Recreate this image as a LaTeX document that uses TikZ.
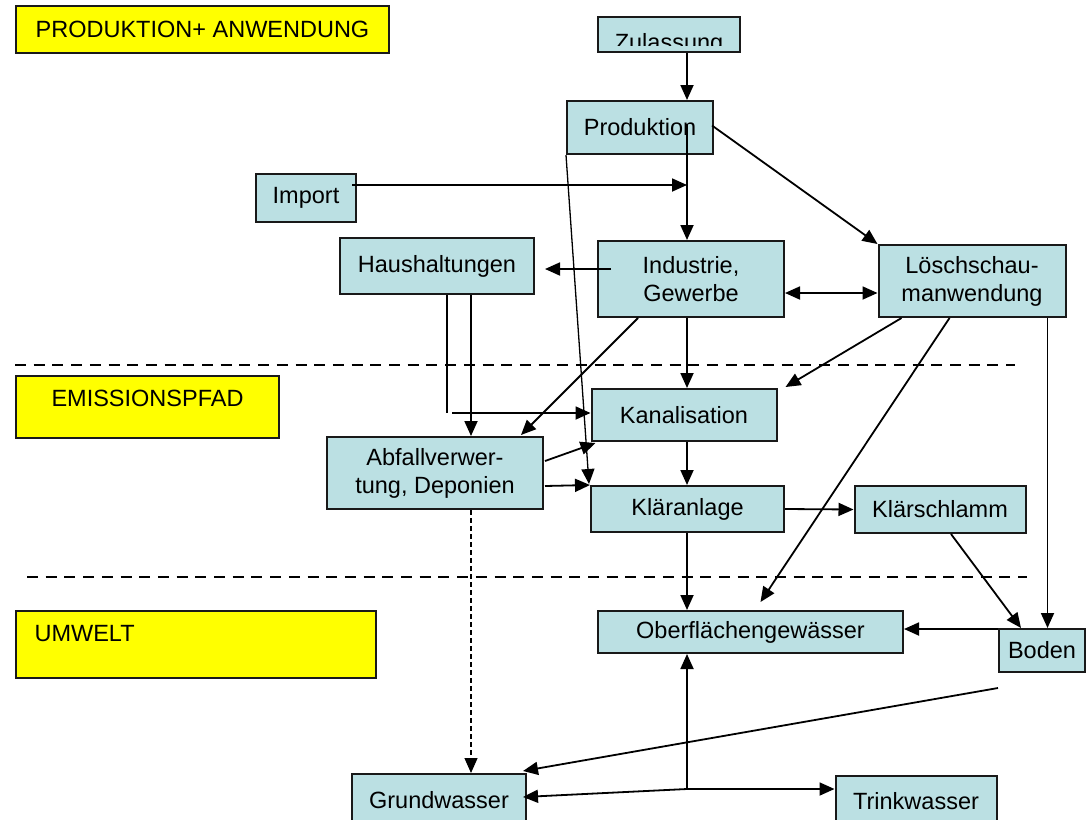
\documentclass[tikz,border=0pt]{standalone}
\usepackage{fontspec}
\setmainfont{Liberation Sans}
\usetikzlibrary{calc,arrows.meta}
\definecolor{hellblau}{RGB}{187,224,227}
\definecolor{gelb}{RGB}{255,255,0}
\newcommand{\grosz}{\fontsize{23.5}{28}\selectfont}
\tikzset{
	kasten/.style={draw=black!90, fill=hellblau, line width=2pt, inner sep=0pt, align=center, font=\grosz},
	ebene/.style={draw=black!90, fill=gelb, line width=2pt, inner sep=0pt, font=\grosz},
	linie/.style={line width=1.8pt},
	pfeil/.style={line width=1.8pt, -{Triangle[length=15pt,width=13pt]}},
	doppelpfeil/.style={line width=1.8pt, {Triangle[length=15pt,width=13pt]}-{Triangle[length=15pt,width=13pt]}},
	gestrichelt/.style={line width=1.2pt, dash pattern=on 5pt off 3pt},
	trenner/.style={line width=2.2pt, dash pattern=on 11pt off 7.7pt}
}

\begin{document}
\begin{tikzpicture}[x=1pt,y=-1pt]
		%%%%% START %%%%%
		
		\clip (0,0) rectangle (1091,819);
		\fill[white] (0,0) rectangle (1091,819);
		
		\node[ebene, minimum width=373pt, minimum height=47pt] (ebpro) at (202.5,29.5) {PRODUKTION+ ANWENDUNG};
		\node[ebene, minimum width=263pt, minimum height=62pt] (ebemi) at (147.5,407) {};
		\node[font=\grosz] (ebemitext) at ($(ebemi.north)+(0,23)$) {EMISSIONSPFAD};
		\node[ebene, minimum width=360pt, minimum height=67pt] (ebumw) at (196,644.5) {};
		\node[font=\grosz, anchor=west] (ebumwtext) at ($(ebumw.west)+(16,-11)$) {UMWELT};
		
		\draw[trenner] (15,365) -- (1015,365);
		\draw[trenner] (27,577) -- (1027,577);
		
		\node[kasten, minimum width=142pt, minimum height=35pt] (zul) at (669,34.5) {};
		\node[kasten, minimum width=146pt, minimum height=53pt] (prod) at (640,127.5) {Produktion};
		\node[kasten, minimum width=100pt, minimum height=48pt] (imp) at (306,198) {Import};
		\node[kasten, minimum width=194pt, minimum height=56pt] (haus) at (437,266) {Haushaltungen};
		\node[kasten, minimum width=186pt, minimum height=76pt] (ind) at (691,279) {Industrie,\\Gewerbe};
		\node[kasten, minimum width=187pt, minimum height=72pt] (loesch) at (972,281) {Löschschau-\\manwendung};
		\node[kasten, minimum width=185pt, minimum height=52pt] (kanal) at (684,415) {Kanalisation};
		\node[kasten, minimum width=216pt, minimum height=72pt] (abfall) at (435,473) {Abfallverwer-\\tung, Deponien};
		\node[kasten, minimum width=193pt, minimum height=46pt] (klaer) at (687.5,509) {Kläranlage};
		\node[kasten, minimum width=171pt, minimum height=47pt] (schlamm) at (940,509.5) {Klärschlamm};
		\node[kasten, minimum width=305pt, minimum height=42pt] (ober) at (750.5,632) {Oberflächengewässer};
		\node[kasten, minimum width=86pt, minimum height=43pt] (boden) at (1042,650.5) {Boden};
		\node[kasten, minimum width=174pt, minimum height=52pt] (grund) at (439,800) {Grundwasser};
		\node[kasten, minimum width=161pt, minimum height=50pt] (trink) at (916,801) {Trinkwasser};
		
		\begin{scope}
			\clip ($(zul.north west)+(2,2)$) rectangle ($(zul.south east)+(-2,-8)$);
			\node[font=\grosz, anchor=base] (zultext) at ($(zul.south)+(0,-3)$) {Zulassung};
		\end{scope}
		
		\coordinate (achse) at (687,0);
		\coordinate (gw) at (471,0);
		\coordinate (bx) at (1047.5,0);
		\coordinate (hk) at (447,413);
		\coordinate (knoten) at (687,789);
		
		\draw[pfeil] (zul.south -| achse) -- (prod.north -| achse);
		\draw[pfeil] ($(prod.east -| achse)+(0,-4)$) -- (ind.north -| achse);
		\draw[pfeil] ($(prod.east)+(-2,-2)$) -- (loesch.north west);
		\draw[pfeil] ($(imp.east)+(-5,-13)$) -- ($(imp.east -| achse)+(0,-13)$);
		\draw[pfeil] ($(ind.west)+(14,-10)$) -- ($(haus.east)+(10,3)$);
		
		\draw[linie] (haus.south -| hk) -- (hk);
		\draw[pfeil] ($(hk)+(5,0)$) -- (hk -| kanal.west);
		\draw[pfeil] (haus.south -| gw) -- (abfall.north -| gw);
		
		\draw[pfeil] ($(ind.south west)+(41,0)$) -- ($(abfall.north east)+(-23,-1)$);
		\draw[pfeil] (ind.south -| achse) -- (kanal.north -| achse);
		\draw[pfeil] ($(abfall.east)+(1,-12)$) -- ($(kanal.south west)+(5,1)$);
		\draw[pfeil] ($(abfall.east)+(1,13)$) -- (klaer.north west);
		\draw[pfeil, line width=1.3pt] (prod.south west) -- ($(klaer.north west)+(-1,-1)$);
		\draw[pfeil] (kanal.south -| achse) -- (klaer.north -| achse);
		\draw[pfeil, gestrichelt] (abfall.south -| gw) -- (grund.north -| gw);
		
		\draw[doppelpfeil] ($(ind.east)+(0,14)$) -- ($(loesch.west)+(0,12)$);
		\draw[pfeil] ($(loesch.south west)+(24,0)$) -- ($(kanal.north east)+(8,-1)$);
		\draw[pfeil] ($(loesch.south west)+(72,0)$) -- ($(ober.north)+(10,-8)$);
		\draw[pfeil] (loesch.south -| bx) -- (boden.north -| bx);
		
		\draw[pfeil] (klaer.east) -- (schlamm.west);
		\draw[pfeil] (klaer.south -| achse) -- (ober.north -| achse);
		\draw[pfeil] ($(schlamm.south)+(11,0)$) -- ($(boden.north west)+(23,0)$);
		\draw[pfeil] ($(boden.north west)+(0,1)$) -- ($(boden.north west -| ober.east)+(0,1)$);
		\draw[pfeil] ($(boden.south west)+(0,15)$) -- ($(grund.north east)+(-4,-2)$);
		
		\draw[pfeil] (knoten) -- (ober.south -| achse);
		\draw[pfeil] (knoten) -- ($(grund.east)+(-4,-3)$);
		\draw[pfeil] (knoten) -- (knoten -| trink.west);
		
		%%%%% END %%%%%
	\end{tikzpicture}
\end{document}
